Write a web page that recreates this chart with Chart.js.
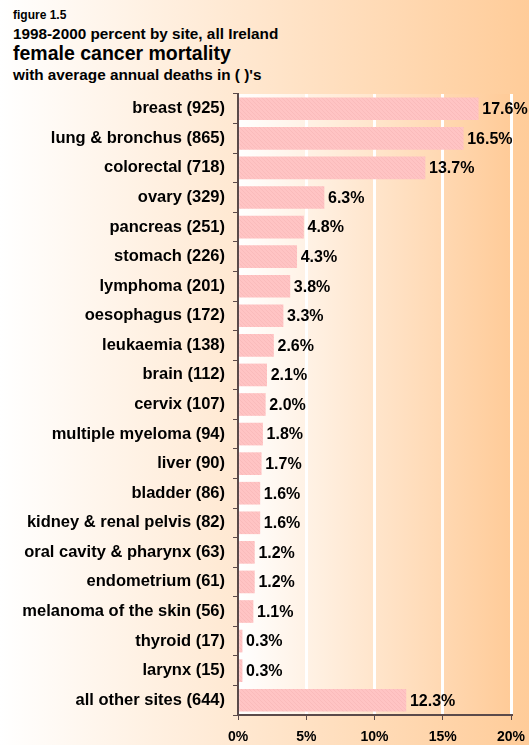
<!DOCTYPE html>
<html>
<head>
<meta charset="utf-8">
<script src="https://cdn.jsdelivr.net/npm/chart.js@4.4.1/dist/chart.umd.min.js"></script>
<style>
  html, body { margin: 0; padding: 0; }
  body {
    width: 529px;
    height: 745px;
    position: relative;
    overflow: hidden;
    background: linear-gradient(to right, #ffffff 0%, #ffcc99 100%);
    font-family: "Liberation Sans", Arial, sans-serif;
    font-weight: bold;
    color: #000;
  }
  .t { position: absolute; left: 13px; white-space: nowrap; line-height: 1; }
  #chart-wrap { position: absolute; left: 0; top: 0; width: 529px; height: 745px; }
</style>
</head>
<body>
<div class="t" style="top:9px; font-size:12px;">figure 1.5</div>
<div class="t" style="top:26px; font-size:15.3px;">1998-2000 percent by site, all Ireland</div>
<div class="t" style="top:44px; font-size:19.5px;">female cancer mortality</div>
<div class="t" style="top:67px; font-size:15.3px;">with average annual deaths in ( )'s</div>
<div id="chart-wrap"><canvas id="chart" width="529" height="745"></canvas></div>
<script>
const sites = [
  "breast", "lung & bronchus", "colorectal", "ovary", "pancreas", "stomach",
  "lymphoma", "oesophagus", "leukaemia", "brain", "cervix", "multiple myeloma",
  "liver", "bladder", "kidney & renal pelvis", "oral cavity & pharynx",
  "endometrium", "melanoma of the skin", "thyroid", "larynx", "all other sites"
];
const deaths = [925, 865, 718, 329, 251, 226, 201, 172, 138, 112, 107, 94, 90, 86, 82, 63, 61, 56, 17, 15, 644];
const percents = [17.6, 16.5, 13.7, 6.3, 4.8, 4.3, 3.8, 3.3, 2.6, 2.1, 2.0, 1.8, 1.7, 1.6, 1.6, 1.2, 1.2, 1.1, 0.3, 0.3, 12.3];
const xTicks = [0, 5, 10, 15, 20];

const labels = sites.map((s, i) => `${s} (${deaths[i]})`);
const font = "'Liberation Sans', Arial, sans-serif";
const axisColor = "#5b4a4a";

// pink hatched fill for the bars
function hatch() {
  const c = document.createElement("canvas");
  c.width = 4;
  c.height = 4;
  const g = c.getContext("2d");
  g.fillStyle = "#ffc4c4";
  g.fillRect(0, 0, 4, 4);
  g.strokeStyle = "#fabbbb";
  g.lineWidth = 1;
  g.beginPath();
  g.moveTo(0, 0);
  g.lineTo(4, 4);
  g.stroke();
  return g.createPattern(c, "repeat");
}

const plotBackground = {
  id: "plotBackground",
  beforeDraw(chart) {
    const { ctx, chartArea: a } = chart;
    const grad = ctx.createLinearGradient(a.left, 0, a.right, 0);
    grad.addColorStop(0, "#ffffff");
    grad.addColorStop(1, "#ffcb98");
    ctx.save();
    ctx.fillStyle = grad;
    ctx.fillRect(a.left, a.top, a.right - a.left, a.bottom - a.top);
    ctx.restore();
  },
};

const valueLabels = {
  id: "valueLabels",
  afterDatasetsDraw(chart) {
    const ctx = chart.ctx;
    const meta = chart.getDatasetMeta(0);
    ctx.save();
    ctx.font = `bold 16px ${font}`;
    ctx.fillStyle = "#000";
    ctx.textAlign = "left";
    ctx.textBaseline = "middle";
    meta.data.forEach((bar, i) => {
      ctx.fillText(percents[i].toFixed(1) + "%", bar.x + 4, bar.y + 1);
    });
    ctx.restore();
  },
};

new Chart(document.getElementById("chart"), {
  type: "bar",
  data: {
    labels: labels,
    datasets: [
      {
        data: percents,
        backgroundColor: hatch(),
        borderWidth: 0,
        barThickness: 22,
      },
    ],
  },
  options: {
    indexAxis: "y",
    responsive: false,
    animation: false,
    layout: { padding: { top: 94, right: 18, bottom: 0, left: 0 } },
    plugins: {
      legend: { display: false },
      tooltip: { enabled: false },
    },
    scales: {
      x: {
        min: 0,
        max: 20,
        afterFit(scale) {
          scale.height = 30;
          scale.paddingLeft = 0;
          scale.paddingRight = 0;
        },
        afterBuildTicks(scale) {
          scale.ticks = xTicks.map((v) => ({ value: v }));
        },
        grid: {
          color: "#ffffff",
          lineWidth: 3,
          tickColor: axisColor,
          tickLength: 5,
          tickWidth: 1,
        },
        border: { color: axisColor, width: 2, z: 1 },
        ticks: {
          color: "#000",
          padding: 9,
          maxRotation: 0,
          font: { family: font, size: 14, weight: "bold" },
          callback: (v) => v + "%",
        },
      },
      y: {
        afterFit(scale) {
          scale.width = 238;
        },
        grid: {
          drawOnChartArea: false,
          color: axisColor,
          tickLength: 5,
          offset: true,
        },
        border: { color: axisColor, width: 2, z: 1 },
        ticks: {
          color: "#000",
          padding: 8,
          font: { family: font, size: 16.5, weight: "bold" },
        },
      },
    },
  },
  plugins: [plotBackground, valueLabels],
});
</script>
</body>
</html>
